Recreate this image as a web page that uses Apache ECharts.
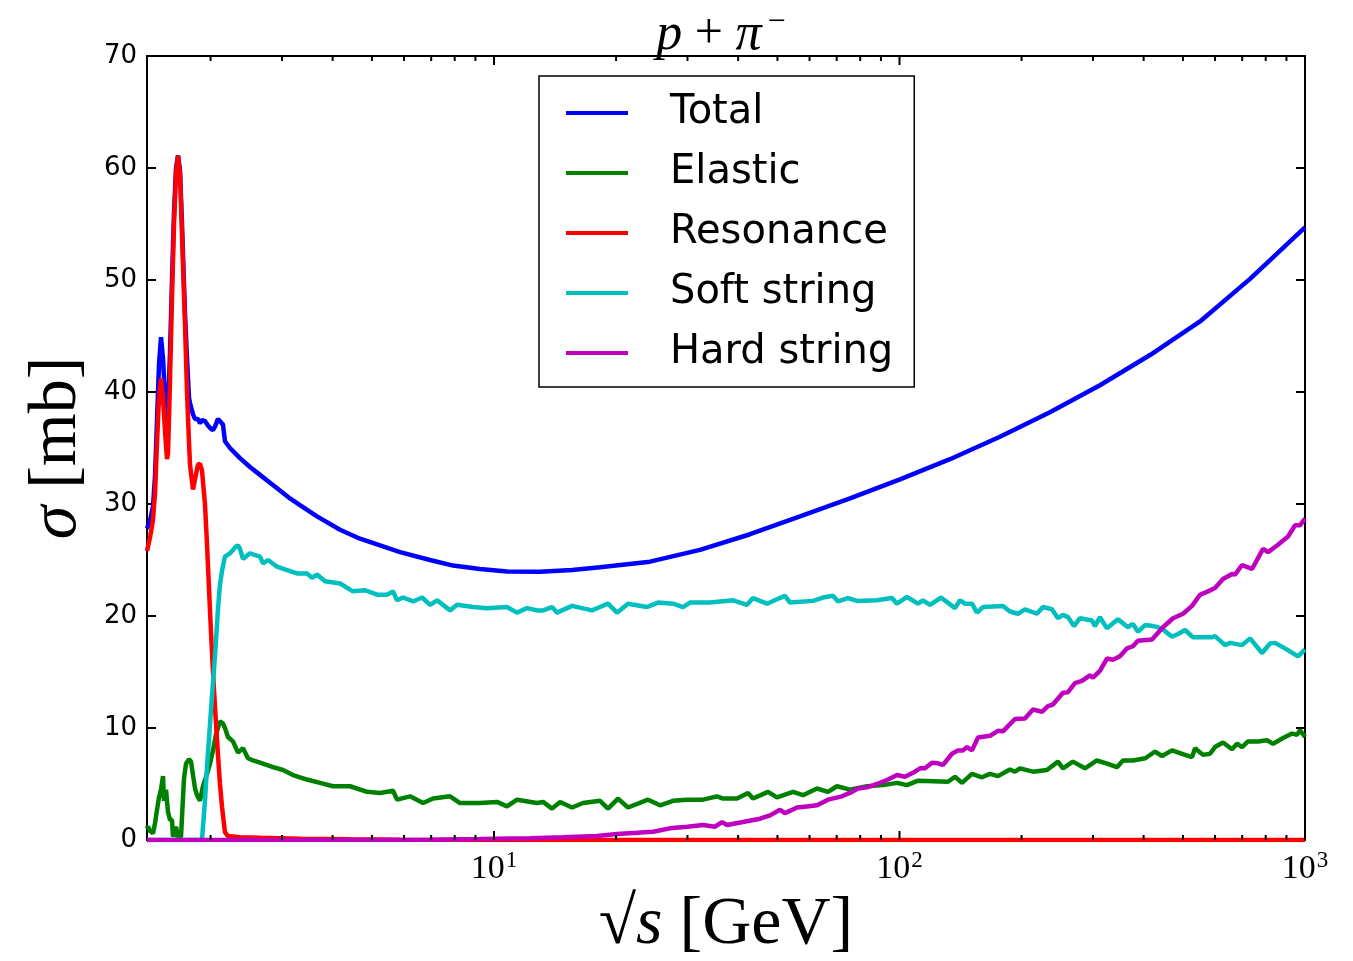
<!DOCTYPE html>
<html>
<head>
<meta charset="utf-8">
<title>p + pi- cross sections</title>
<script src="https://cdn.jsdelivr.net/npm/echarts@6/dist/echarts.min.js"></script>
<style>
  html, body { margin: 0; padding: 0; background: #fff; }
  #main { width: 1353px; height: 961px; }
</style>
</head>
<body>
<div id="main"></div>
<script>
// sqrt(s) [GeV] , sigma [mb]
var total = [[1.394,27.8],[1.418,28.5],[1.4425,29.8],[1.459,32.5],[1.4756,37.5],[1.4925,42.5],[1.5095,44.9],[1.5267,43.0],[1.5441,39.5],[1.5617,37.5],[1.5706,38.5],[1.5885,43.5],[1.6067,50],[1.625,56],[1.6436,60],[1.6623,61.1],[1.6813,59.8],[1.7005,55],[1.7297,47],[1.7495,43],[1.7694,39.5],[1.7795,39.0],[1.8101,38.0],[1.8308,37.6],[1.8619,37.6],[1.8832,37.2],[1.9047,37.5],[1.9374,37.4],[1.9707,37.0],[1.9932,36.8],[2.0274,36.6],[2.0506,36.9],[2.0858,37.6],[2.1096,37.7],[2.1458,37.1],[2.1703,35.6],[2.2329,35.0],[2.3634,34.1],[2.5019,33.3],[2.6481,32.6],[2.8029,31.9],[2.966,31.2],[3.14,30.5],[3.3233,29.9],[3.6603,28.9],[4.1708,27.7],[4.673,26.9],[5.2352,26.3],[5.865,25.7],[6.955,25.0],[7.9255,24.5],[9.2358,24.2],[10.767,23.98],[12.988,23.95],[15.576,24.1],[18.258,24.35],[24.25,24.85],[32.214,25.9],[42.8,27.3],[56.84,28.9],[75.5,30.5],[100.29,32.2],[133.2,34.0],[176.9,36.0],[235.0,38.2],[312.08,40.6],[414.8,43.3],[551.0,46.3],[731.9,50.1],[1000,54.7]];

var elastic = [[1.394,1.0],[1.4022,1.2],[1.418,0.8],[1.4425,0.6],[1.459,1.5],[1.4756,2.7],[1.4925,3.8],[1.5095,4.5],[1.5267,5.7],[1.5353,3.5],[1.5529,4.5],[1.5706,2.5],[1.5885,1.8],[1.6067,1.8],[1.6158,0.3],[1.6436,1.2],[1.6623,0.2],[1.6909,0.3],[1.7199,5.5],[1.7396,6.8],[1.7694,7.2],[1.7896,7.0],[1.8101,5.8],[1.8308,4.6],[1.8513,4.0],[1.8832,3.5],[1.9155,4.8],[1.9484,5.6],[1.9932,6.8],[2.0274,8.0],[2.0623,9.4],[2.1096,10.6],[2.1458,10.4],[2.1703,10.0],[2.2077,9.2],[2.2713,8.8],[2.3367,7.8],[2.4044,8.2],[2.4736,7.3],[2.5449,7.1],[2.6481,6.9],[2.851,6.5],[3.0176,6.25],[3.1938,5.8],[3.4582,5.4],[3.7231,5.1],[4.0083,4.8],[4.4152,4.8],[4.8626,4.3],[5.2352,4.2],[5.6364,4.4],[5.7659,3.6],[6.2087,3.9],[6.6841,3.3],[7.0745,3.7],[7.7916,3.9],[8.247,3.3],[9.2358,3.3],[10.172,3.4],[10.767,3.0],[11.395,3.6],[12.769,3.3],[13.211,3.4],[13.903,2.8],[14.55,3.4],[15.576,2.9],[16.578,3.3],[18.258,3.5],[19.106,2.8],[20.221,3.7],[21.403,2.9],[23.977,3.6],[25.667,3.1],[27.634,3.5],[29.922,3.6],[32.768,3.6],[35.482,3.9],[36.712,3.7],[39.748,3.7],[42.31,4.2],[43.527,3.7],[47.397,4.3],[49.881,3.8],[54.626,4.3],[57.817,4.0],[62.6,4.6],[66.634,4.3],[70.13,4.8],[75.501,4.5],[83.153,4.8],[91.061,4.9],[98.593,5.1],[104.35,4.9],[111.08,5.3],[131.7,5.2],[137.04,5.65],[142.59,5.1],[150.92,5.9],[159.74,5.6],[167.14,5.9],[174.91,5.7],[187.24,6.3],[192.63,6.1],[198.18,6.4],[213.35,6.1],[231.0,6.25],[245.89,7.0],[252.97,6.4],[267.74,7.0],[286.61,6.4],[306.81,7.1],[326.59,6.8],[343.72,6.5],[355.63,7.1],[376.4,7.1],[403.95,7.3],[426.7,7.9],[444.0,7.5],[469.9,8.0],[506.0,7.6],[526.5,7.4],[535.6,8.2],[560.5,7.6],[583.2,7.7],[599.9,8.3],[627.8,8.7],[660.8,8.1],[679.8,8.6],[699.4,8.3],[723.6,8.8],[765.9,8.8],[806.1,8.9],[834.1,8.6],[882.8,9.1],[929.1,9.5],[955.8,9.4],[972.2,9.8],[1000,9.2]];

var resonance = [[1.394,25.8],[1.418,27.0],[1.4425,28.6],[1.459,31],[1.4756,35.5],[1.4925,39.5],[1.5095,41.2],[1.5267,39.5],[1.5441,36.5],[1.5617,34.0],[1.5706,34.5],[1.5885,41],[1.6067,48.5],[1.625,55],[1.6436,59.5],[1.6623,61.1],[1.6813,59.5],[1.7005,54],[1.7297,46],[1.7495,40],[1.7694,35.5],[1.7795,33.5],[1.8101,31.3],[1.8308,32.2],[1.8619,33.5],[1.8832,33.6],[1.9047,33.0],[1.9374,30],[1.9595,26.5],[1.9932,20.5],[2.0274,15],[2.0506,11.9],[2.0858,7.6],[2.1096,5],[2.1337,3.0],[2.1703,0.7],[2.2077,0.35],[2.3634,0.25],[2.6481,0.2],[3.3233,0.12],[4.4152,0.06],[5.865,0.02],[10.347,0],[1000,0]];

var softString = [[1.394,0],[1.9047,0],[1.9374,3.5],[1.9595,6.5],[1.9932,10.3],[2.0159,12.8],[2.0506,16.4],[2.0858,20.6],[2.1096,22.8],[2.1337,24.0],[2.1703,25.3],[2.2329,25.6],[2.2713,25.9],[2.3103,26.2],[2.3367,26.3],[2.3634,26.0],[2.4044,25.1],[2.5019,25.6],[2.5449,25.5],[2.6481,25.3],[2.6936,24.7],[2.7712,25.0],[2.9165,24.4],[3.0869,24.1],[3.2672,23.8],[3.4582,23.8],[3.5578,23.4],[3.6603,23.7],[3.8304,23.1],[4.1708,22.9],[4.491,22.2],[4.8077,22.3],[5.1467,21.9],[5.4476,21.9],[5.6364,22.2],[5.7659,21.4],[5.9658,21.65],[6.3153,21.3],[6.6463,21.65],[6.955,21.0],[7.2371,21.4],[7.7916,20.5],[8.1077,21.0],[8.8766,20.8],[9.6104,20.7],[10.767,20.8],[11.395,20.3],[12.062,20.7],[12.769,20.5],[13.211,20.5],[13.903,20.8],[14.304,20.3],[15.576,20.9],[17.447,20.5],[18.258,20.8],[19.106,21.1],[20.106,20.3],[21.403,21.1],[23.841,20.8],[25.378,21.2],[27.634,21.1],[29.25,20.8],[30.436,21.2],[34.097,21.2],[38.855,21.4],[42.07,21.0],[43.527,21.6],[47.128,21.1],[49.881,21.5],[52.2,21.8],[53.703,21.2],[61.194,21.35],[64.768,21.65],[68.553,21.8],[70.529,21.3],[74.649,21.6],[78.562,21.35],[88.009,21.4],[95.83,21.6],[98.593,21.1],[104.35,21.7],[111.08,21.1],[114.28,21.4],[118.91,21.0],[126.57,21.65],[137.04,20.7],[140.98,21.4],[145.04,21.1],[150.92,21.1],[155.27,20.3],[160.65,20.8],[179.94,20.9],[187.24,20.4],[195.94,20.2],[203.88,20.6],[218.25,20.2],[225.81,20.8],[237.65,20.6],[245.89,19.8],[252.97,20.1],[260.25,19.9],[269.27,19.1],[278.6,19.8],[298.23,19.6],[303.35,19.1],[312.08,19.9],[324.74,18.9],[345.68,19.7],[365.87,19.0],[376.4,19.3],[387.24,18.6],[403.95,19.2],[421.9,19.1],[434.1,19.0],[446.5,18.8],[469.9,18.15],[486.3,18.4],[506.0,18.75],[529.5,18.1],[589.8,18.1],[599.9,18.2],[635.0,17.4],[653.3,17.6],[699.4,17.4],[731.9,18.0],[783.5,16.7],[820.0,17.55],[843.6,17.6],[903.1,17.0],[961.2,16.4],[1000,17.0]];

var hardString = [[1.394,0],[5.865,0],[6.955,0.02],[9.2358,0.08],[12.269,0.15],[14.8,0.24],[17.949,0.36],[20.106,0.54],[22.524,0.65],[24.667,0.74],[27.167,1.04],[29.922,1.19],[32.768,1.34],[35.081,1.19],[36.503,1.6],[37.554,1.34],[41.125,1.6],[45.291,1.9],[47.938,2.2],[50.739,2.7],[52.2,2.4],[55.881,2.9],[59.146,3.0],[62.6,3.1],[66.634,3.6],[72.147,3.9],[76.362,4.3],[79.009,4.6],[83.153,4.7],[89.522,5.1],[93.682,5.4],[98.593,5.8],[103.17,5.65],[107.97,6.0],[112.35,6.4],[115.59,6.4],[120.27,6.9],[124.43,6.85],[128.01,6.7],[134.72,7.7],[139.39,8.0],[143.4,8.0],[146.69,8.3],[150.92,8.0],[156.16,9.15],[167.14,9.3],[174.91,9.75],[179.94,9.7],[192.63,10.8],[203.88,10.85],[213.35,11.65],[224.53,11.45],[232.32,11.96],[239.0,12.1],[252.97,13.15],[260.25,13.2],[270.8,14.0],[281.78,14.2],[294.87,14.7],[300.0,14.5],[312.08,15.1],[324.74,16.2],[336.0,16.1],[349.62,16.4],[363.8,17.1],[376.4,17.3],[387.24,17.8],[419.5,17.9],[446.5,19.0],[472.6,19.8],[500.3,20.2],[526.5,20.9],[551.0,21.9],[576.6,22.2],[599.9,22.5],[627.8,23.3],[660.8,23.75],[672.1,23.7],[699.4,24.55],[740.3,24.2],[788.0,26.0],[810.7,25.7],[853.2,26.3],[908.2,27.1],[945.1,28.1],[972.2,28.1],[1000,28.7]];

var seriesNames = ['Total', 'Elastic', 'Resonance', 'Soft string', 'Hard string'];
var seriesColors = ['#0000ff', '#008000', '#ff0000', '#00bfbf', '#bf00bf'];
var xMajorTicks = [10, 100, 1000];
var xMinorTicks = [2, 3, 4, 5, 6, 7, 8, 9, 20, 30, 40, 50, 60, 70, 80, 90, 200, 300, 400, 500, 600, 700, 800, 900];

var chart = echarts.init(document.getElementById('main'));

var seriesData = [total, elastic, resonance, softString, hardString];
var series = seriesNames.map(function (name, i) {
  return {
    name: name,
    type: 'line',
    data: seriesData[i],
    showSymbol: false,
    symbol: 'none',
    lineStyle: { color: seriesColors[i], width: 4.5 },
    itemStyle: { color: seriesColors[i] },
    z: 2 + i
  };
});

chart.setOption({
  animation: false,
  backgroundColor: '#fff',
  title: {
    text: '{i|p} + {i|π}{s|−}',
    left: 716,
    top: 2,
    textAlign: 'center',
    textStyle: {
      fontFamily: 'Liberation Serif',
      fontSize: 50,
      fontWeight: 'normal',
      color: '#000',
      rich: {
        i: { fontFamily: 'Liberation Serif', fontSize: 52, fontStyle: 'italic', color: '#000' },
        s: { fontFamily: 'Liberation Serif', fontSize: 32, color: '#000', padding: [0, 0, 24, 6] }
      }
    }
  },
  legend: {
    data: seriesNames,
    orient: 'vertical',
    left: 539,
    top: 76,
    padding: [15, 21, 12, 27],
    itemGap: 16,
    itemWidth: 62,
    itemHeight: 4,
    icon: 'rect',
    borderColor: '#000',
    borderWidth: 1.5,
    borderRadius: 0,
    backgroundColor: '#fff',
    textStyle: {
      fontFamily: 'DejaVu Sans',
      fontSize: 40,
      lineHeight: 44,
      color: '#000',
      padding: [0, 0, 0, 37]
    }
  },
  grid: {
    left: 147,
    top: 56,
    width: 1158,
    height: 784,
    show: true,
    borderColor: '#000',
    borderWidth: 2,
    backgroundColor: 'transparent',
    outerBoundsMode: 'none'
  },
  xAxis: {
    type: 'log',
    logBase: 10,
    min: 1.394,
    max: 1000,
    axisLine: { show: true, lineStyle: { color: '#000', width: 2 } },
    axisTick: { show: false },
    splitLine: { show: false },
    axisLabel: {
      margin: 9,
      color: '#000',
      formatter: function (v) {
        var e = Math.log10(v);
        if (Math.abs(e - Math.round(e)) > 1e-6) return '';
        return '{b|10}{s|' + Math.round(e) + '}';
      },
      rich: {
        b: { fontFamily: 'Liberation Serif', fontSize: 34, color: '#000' },
        s: { fontFamily: 'Liberation Serif', fontSize: 23, color: '#000', padding: [0, 0, 18, 1] }
      }
    },
    name: '√{it|s} [GeV]',
    nameLocation: 'middle',
    nameGap: 50,
    nameTextStyle: {
      fontFamily: 'Liberation Serif',
      fontSize: 68,
      color: '#000',
      rich: {
        it: { fontFamily: 'Liberation Serif', fontSize: 68, fontStyle: 'italic', color: '#000' }
      }
    }
  },
  yAxis: [{
    type: 'value',
    min: 0,
    max: 70,
    interval: 10,
    axisLine: { show: true, lineStyle: { color: '#000', width: 2 } },
    axisTick: { show: true, inside: true, length: 9, lineStyle: { color: '#000', width: 2 } },
    splitLine: { show: false },
    axisLabel: { margin: 10, color: '#000', fontFamily: 'DejaVu Sans', fontSize: 26 },
    name: '{it|σ} [mb]',
    nameLocation: 'middle',
    nameRotate: 90,
    nameGap: 56,
    nameTextStyle: {
      fontFamily: 'Liberation Serif',
      fontSize: 68,
      color: '#000',
      rich: {
        it: { fontFamily: 'Liberation Serif', fontSize: 68, fontStyle: 'italic', color: '#000' }
      }
    }
  }, {
    type: 'value',
    position: 'right',
    min: 0,
    max: 70,
    interval: 10,
    axisLine: { show: true, lineStyle: { color: '#000', width: 2 } },
    axisTick: { show: true, inside: true, length: 9, lineStyle: { color: '#000', width: 2 } },
    splitLine: { show: false },
    axisLabel: { show: false }
  }],
  series: series
});

// log-axis tick marks (major + minor), pointing inward on bottom and top edges,
// placed with the chart's own x/y scales
var tickMarks = [];
var yBottom = chart.convertToPixel({ yAxisIndex: 0 }, 0);
var yTop = chart.convertToPixel({ yAxisIndex: 0 }, 70);
function addTick(v, len) {
  var px = chart.convertToPixel({ xAxisIndex: 0 }, v);
  tickMarks.push({
    type: 'rect', silent: true, z: 100,
    shape: { x: px - 1, y: yBottom - len, width: 2, height: len },
    style: { fill: '#000' }
  });
  tickMarks.push({
    type: 'rect', silent: true, z: 100,
    shape: { x: px - 1, y: yTop, width: 2, height: len },
    style: { fill: '#000' }
  });
}
xMajorTicks.forEach(function (v) { addTick(v, 9); });
xMinorTicks.forEach(function (v) { addTick(v, 5); });
chart.setOption({ graphic: tickMarks });
</script>
</body>
</html>
